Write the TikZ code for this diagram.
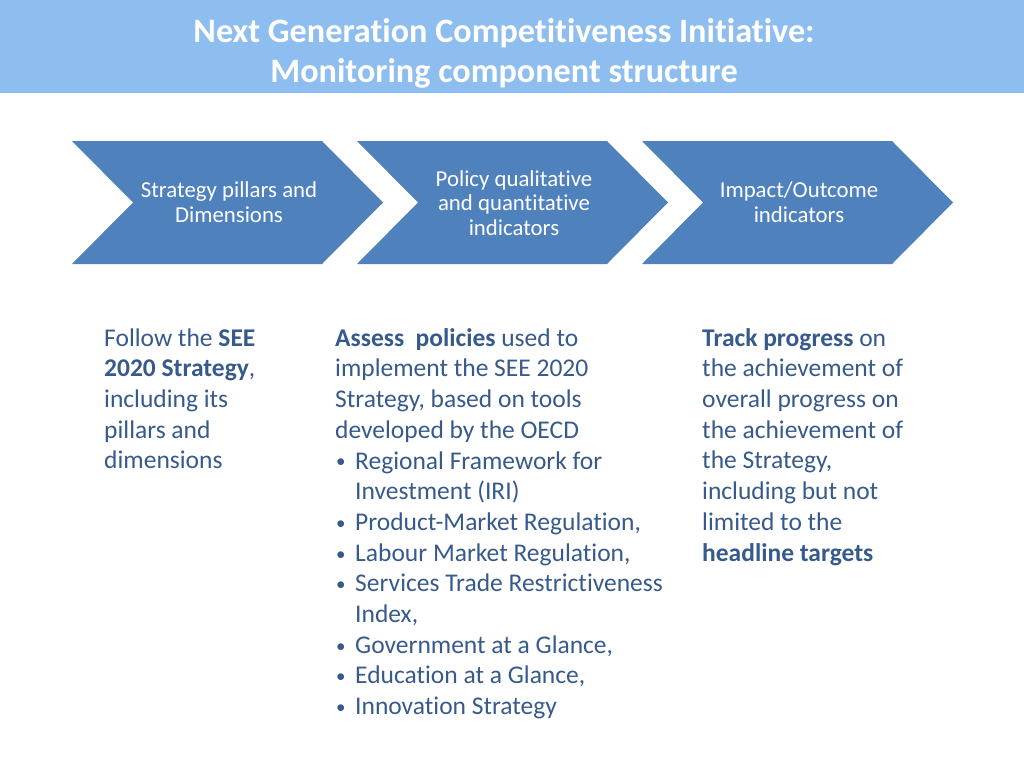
\documentclass[tikz,border=0pt]{standalone}
\usepackage{fontspec}
\setmainfont{Carlito}[Ligatures=NoCommon]
\definecolor{hdr}{HTML}{8EBEEF}
\definecolor{chev}{HTML}{4F81BD}
\definecolor{txt}{HTML}{375A8C}
\newcommand{\bul}{\makebox[20pt][l]{\hspace{1pt}{\fontsize{19}{19}\selectfont\raisebox{1pt}{\textbullet}}}}
\newcommand{\ind}{\hspace*{20pt}}
\begin{document}
\begin{tikzpicture}[x=1pt,y=-1pt,
  chevshape/.style={fill=chev,draw=none},
  chevtext/.style={text=white,align=center,inner sep=0pt,font=\fontsize{22.8}{24.5}\selectfont},
  bodytext/.style={text=txt,align=left,inner sep=0pt,anchor=north west,font=\fontsize{25.5}{30.7}\selectfont},
  titletext/.style={text=white,align=center,inner sep=0pt,font=\fontsize{34.2}{40}\selectfont\bfseries}]
\useasboundingbox (0,0) rectangle (1024,768);
\fill[white] (0,0) rectangle (1024,768);
% header band
\fill[hdr] (0,0) rectangle (1024,93);
\node[titletext] (title) at (504,53) {Next Generation Competitiveness Initiative:\\Monitoring component structure};
% chevrons
\foreach \dx in {0,285,570}{
  \fill[chevshape] (72+\dx,141) -- (322+\dx,141) -- (383+\dx,202.5) -- (322+\dx,264) -- (72+\dx,264) -- (133+\dx,202.5) -- cycle;
}
\node[chevtext] (c1) at (229,202) {Strategy pillars and\\Dimensions};
\node[chevtext] (c2) at (514,203) {Policy qualitative\\and quantitative\\indicators};
\node[chevtext] (c3) at (799,202) {Impact/Outcome\\indicators};
% body columns
\node[bodytext] (b1) at (104,324.5) {\strut Follow the \textbf{SEE}\\\textbf{2020 Strategy},\\including its\\pillars and\\dimensions};
\node[bodytext] (b2) at (335,324.5) {\strut\textbf{Assess\ \ policies} used to\\implement the SEE 2020\\Strategy, based on tools\\developed by the OECD\\
\bul Regional Framework for\\\ind Investment (IRI)\\\bul Product-Market Regulation,\\\bul Labour Market Regulation,\\\bul Services Trade Restrictiveness\\\ind Index,\\\bul Government at a Glance,\\\bul Education at a Glance,\\\bul Innovation Strategy};
\node[bodytext] (b3) at (702,324.5) {\strut\textbf{Track progress} on\\the achievement of\\overall progress on\\the achievement of\\the Strategy,\\including but not\\limited to the\\\textbf{headline targets}};
\end{tikzpicture}
\end{document}
